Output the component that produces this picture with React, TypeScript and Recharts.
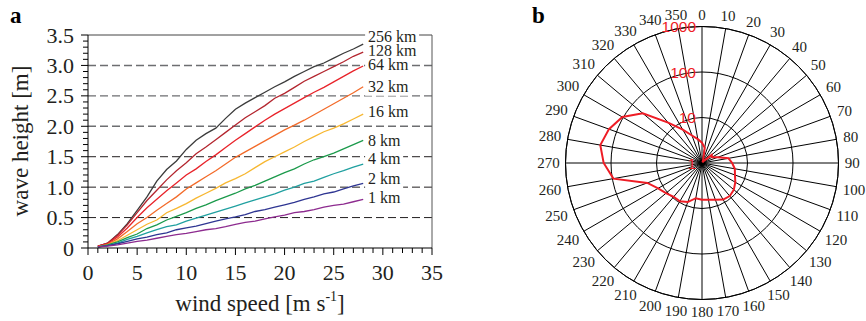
import {
  LineChart,
  Line,
  XAxis,
  YAxis,
  ReferenceLine,
  ReferenceDot,
  RadarChart,
  PolarGrid,
  PolarAngleAxis,
  PolarRadiusAxis,
  Radar,
} from "recharts";

// panel a: wave height vs wind speed, one curve per fetch length
const windSpeed = [1, 2, 3, 4, 5, 6, 7, 8, 9, 10, 11, 12, 13, 14, 15, 16, 17, 18, 19, 20, 21, 22, 23, 24, 25, 26, 27, 28];
const h256 = [0.03, 0.08, 0.22, 0.4, 0.62, 0.84, 1.1, 1.29, 1.43, 1.62, 1.77, 1.88, 1.97, 2.13, 2.28, 2.38, 2.47, 2.56, 2.65, 2.73, 2.82, 2.9, 2.98, 3.04, 3.12, 3.2, 3.27, 3.35];
const h128 = [0.03, 0.08, 0.21, 0.38, 0.58, 0.78, 0.95, 1.12, 1.27, 1.4, 1.55, 1.66, 1.78, 1.9, 2.02, 2.14, 2.24, 2.34, 2.46, 2.54, 2.64, 2.74, 2.82, 2.9, 2.98, 3.06, 3.15, 3.22];
const h64 = [0.03, 0.07, 0.18, 0.33, 0.5, 0.66, 0.8, 0.94, 1.07, 1.2, 1.3, 1.42, 1.53, 1.65, 1.77, 1.88, 1.99, 2.1, 2.2, 2.29, 2.38, 2.47, 2.56, 2.64, 2.73, 2.82, 2.91, 2.99];
const h32 = [0.02, 0.06, 0.15, 0.27, 0.4, 0.5, 0.62, 0.73, 0.84, 0.97, 1.07, 1.17, 1.27, 1.38, 1.49, 1.58, 1.67, 1.76, 1.85, 1.94, 2.02, 2.1, 2.19, 2.28, 2.37, 2.46, 2.55, 2.65];
const h16 = [0.02, 0.05, 0.12, 0.21, 0.3, 0.39, 0.46, 0.58, 0.65, 0.73, 0.82, 0.9, 0.98, 1.07, 1.14, 1.22, 1.32, 1.42, 1.5, 1.58, 1.66, 1.75, 1.83, 1.91, 1.97, 2.04, 2.12, 2.2];
const h8 = [0.02, 0.05, 0.1, 0.17, 0.23, 0.32, 0.38, 0.46, 0.52, 0.58, 0.65, 0.71, 0.78, 0.84, 0.9, 0.97, 1.03, 1.1, 1.17, 1.24, 1.3, 1.38, 1.45, 1.5, 1.56, 1.63, 1.7, 1.77];
const h4 = [0.02, 0.04, 0.08, 0.14, 0.19, 0.25, 0.3, 0.35, 0.38, 0.44, 0.49, 0.54, 0.59, 0.64, 0.69, 0.74, 0.79, 0.84, 0.89, 0.95, 1.0, 1.06, 1.1, 1.16, 1.22, 1.27, 1.33, 1.38];
const h2 = [0.02, 0.04, 0.07, 0.11, 0.15, 0.18, 0.22, 0.25, 0.3, 0.33, 0.36, 0.4, 0.44, 0.48, 0.51, 0.55, 0.6, 0.63, 0.67, 0.71, 0.75, 0.8, 0.84, 0.89, 0.92, 0.97, 1.02, 1.06];
const h1 = [0.02, 0.03, 0.05, 0.08, 0.11, 0.13, 0.16, 0.19, 0.22, 0.24, 0.27, 0.3, 0.32, 0.35, 0.39, 0.42, 0.44, 0.48, 0.51, 0.54, 0.58, 0.6, 0.63, 0.67, 0.7, 0.72, 0.76, 0.8];

const fetchNames = ["256 km", "128 km", "64 km", "32 km", "16 km", "8 km", "4 km", "2 km", "1 km"];
const fetchLabelY = [3.47, 3.23, 3.01, 2.65, 2.24, 1.76, 1.46, 1.13, 0.82];
const fetchLabelX = 28.5;

const dashedLevels = [0.5, 1, 1.5, 2, 2.5, 3];
const xTicks = Array.from({ length: 36 }, (_, i) => i);
const yTicks = Array.from({ length: 36 }, (_, i) => i / 10);

// panel b: counts per wind direction (log radial scale)
const directions = [0, 10, 20, 30, 40, 50, 60, 70, 80, 90, 100, 110, 120, 130, 140, 150, 160, 170, 180, 190, 200, 210, 220, 230, 240, 250, 260, 270, 280, 290, 300, 310, 320, 330, 340, 350];
const counts = [2.8, 2.2, 1.2, 1.05, 1.15, 1.9, 1.8, 2.3, 3.9, 4.6, 5.4, 5.9, 7.0, 8.2, 8.9, 8.5, 7.2, 6.6, 6.4, 6.1, 8.2, 9.4, 9.3, 10.8, 13, 19, 95, 145, 186, 150, 105, 50, 14.4, 7.0, 4.4, 3.4];
const radiusTicks = [1, 10, 100, 1000];

const seriesValues = [h256, h128, h64, h32, h16, h8, h4, h2, h1];
const seriesColors = ["#3b3b3b", "#b3252e", "#e8232a", "#f36b2a", "#f7b731", "#1b9a4b", "#20a0a0", "#2e3592", "#8d2b8f"];

const lineData = windSpeed.map((w, i) => {
  const row: Record<string, number> = { w };
  seriesValues.forEach((vals, s) => {
    row["s" + s] = vals[i];
  });
  return row;
});

const polarData = directions.map((dir, i) => ({ dir, count: counts[i] }));

const SERIF = "'Liberation Serif', 'Times New Roman', serif";
const SANS = "'Liberation Sans', Arial, sans-serif";

const XTick = (props: any) => {
  const { x, y, payload } = props;
  const v = payload.value;
  const major = v % 5 === 0;
  return (
    <g>
      <line x1={x} x2={x} y1={y} y2={y + (major ? 7 : 5)} stroke="#000" />
      {major && (
        <text x={x} y={y + 32} textAnchor="middle" fontSize={22} fontFamily={SERIF} fill="#231f20">
          {v}
        </text>
      )}
    </g>
  );
};

const YTick = (props: any) => {
  const { x, y, payload } = props;
  const v = payload.value;
  const major = Math.round(v * 10) % 5 === 0;
  return (
    <g>
      <line x1={x} x2={x - (major ? 7 : 5)} y1={y} y2={y} stroke="#000" />
      {major && (
        <text x={x - 14} y={y + 7.5} textAnchor="end" fontSize={22} fontFamily={SERIF} fill="#231f20">
          {v === 0 ? "0" : v.toFixed(1)}
        </text>
      )}
    </g>
  );
};

const fetchLabel = (name: string) => (props: any) => {
  const { cx, cy } = props;
  const w = name.length * 8;
  return (
    <g>
      <rect x={cx - 3} y={cy - 9} width={w + 6} height={18} fill="#fff" />
      <text x={cx} y={cy + 5} fontSize={16} fontFamily={SERIF} fill="#231f20">
        {name}
      </text>
    </g>
  );
};

const AngleTick = (props: any) => {
  const { x, y, payload } = props;
  const a = (-payload.coordinate * Math.PI) / 180;
  const ux = Math.cos(a);
  const uy = Math.sin(a);
  const label = String(payload.value);
  const hw = label.length * 3.75;
  const push = -1 + hw * 0.9 * Math.abs(ux) + 5 * Math.abs(uy);
  return (
    <text
      x={x + ux * push}
      y={y + uy * push}
      textAnchor="middle"
      dominantBaseline="central"
      fontSize={15}
      fontFamily={SERIF}
      fill="#231f20"
    >
      {label}
    </text>
  );
};

const RadiusTick = (props: any) => {
  const { x, y, payload } = props;
  return (
    <text x={x - 6} y={y} textAnchor="end" dominantBaseline="central" fontSize={15.5} fontFamily={SANS} fill="#ee1c25">
      {payload.value}
    </text>
  );
};

export default function App() {
  return (
    <div style={{ position: "absolute", left: 0, top: 0, width: 866, height: 321, background: "#fff" }}>
      <div style={{ position: "absolute", left: 0, top: 0 }}>
        <LineChart width={470} height={321} data={lineData} margin={{ top: 35, right: 38, bottom: 43, left: 38 }}>
          <XAxis
            dataKey="w"
            type="number"
            domain={[0, 35]}
            ticks={xTicks}
            interval={0}
            height={30}
            tickSize={0}
            tickMargin={0}
            tickLine={false}
            tick={<XTick />}
            axisLine={{ stroke: "#000" }}
          />
          <YAxis
            type="number"
            domain={[0, 3.5]}
            ticks={yTicks}
            interval={0}
            width={50}
            tickSize={0}
            tickMargin={0}
            tickLine={false}
            tick={<YTick />}
            axisLine={{ stroke: "#000" }}
          />
          {dashedLevels.map((lv) => (
            <ReferenceLine
              key={lv}
              y={lv}
              stroke={lv >= 2 ? "#6d6e71" : "#231f20"}
              strokeWidth={lv >= 2 ? 1.4 : 1}
              strokeDasharray="8 4"
            />
          ))}
          <ReferenceLine y={3.5} stroke="#444" />
          <ReferenceLine x={35} stroke="#555" />
          {seriesColors.map((c, s) => (
            <Line
              key={s}
              dataKey={"s" + s}
              type="linear"
              stroke={c}
              strokeWidth={1.3}
              dot={false}
              isAnimationActive={false}
            />
          ))}
          {fetchNames.map((name, i) => (
            <ReferenceDot key={name} x={fetchLabelX} y={fetchLabelY[i]} r={0} shape={fetchLabel(name)} />
          ))}
        </LineChart>
      </div>

      <div style={{ position: "absolute", left: 10, top: 3, fontFamily: SERIF, fontWeight: "bold", fontSize: 23 }}>a</div>
      <div style={{ position: "absolute", left: 532, top: 3, fontFamily: SERIF, fontWeight: "bold", fontSize: 23 }}>b</div>

      <div
        style={{
          position: "absolute",
          left: 60,
          top: 291,
          width: 400,
          textAlign: "center",
          fontFamily: SERIF,
          fontSize: 23,
          lineHeight: "26px",
          color: "#231f20",
          whiteSpace: "nowrap",
        }}
      >
        wind speed [m s<span style={{ fontSize: 14, position: "relative", top: -10 }}>-1</span>]
      </div>
      <div
        style={{
          position: "absolute",
          left: -79,
          top: 128,
          width: 200,
          height: 26,
          textAlign: "center",
          fontFamily: SERIF,
          fontSize: 23,
          lineHeight: "26px",
          color: "#231f20",
          transform: "rotate(-90deg)",
          whiteSpace: "nowrap",
        }}
      >
        wave height [m]
      </div>

      <div style={{ position: "absolute", left: 480, top: 0 }}>
        <RadarChart
          width={386}
          height={321}
          data={polarData}
          cx={222}
          cy={163}
          outerRadius={136.5}
          margin={{ top: 0, right: 0, bottom: 0, left: 0 }}
        >
          <PolarGrid gridType="circle" stroke="#000" strokeOpacity={1} />
          <PolarAngleAxis
            dataKey="dir"
            tick={<AngleTick />}
            tickLine={false}
            tickSize={8}
            axisLine={{ stroke: "#000" }}
            axisLineType="circle"
          />
          <PolarRadiusAxis
            angle={90}
            type="number"
            scale="log"
            domain={[1, 1000]}
            ticks={radiusTicks as any}
            allowDataOverflow
            axisLine={false}
            tickLine={false}
            tick={<RadiusTick />}
          />
          <Radar
            dataKey="count"
            stroke="#ee1c25"
            strokeWidth={2}
            fill="none"
            fillOpacity={0}
            dot={false}
            isAnimationActive={false}
          />
        </RadarChart>
      </div>
    </div>
  );
}
